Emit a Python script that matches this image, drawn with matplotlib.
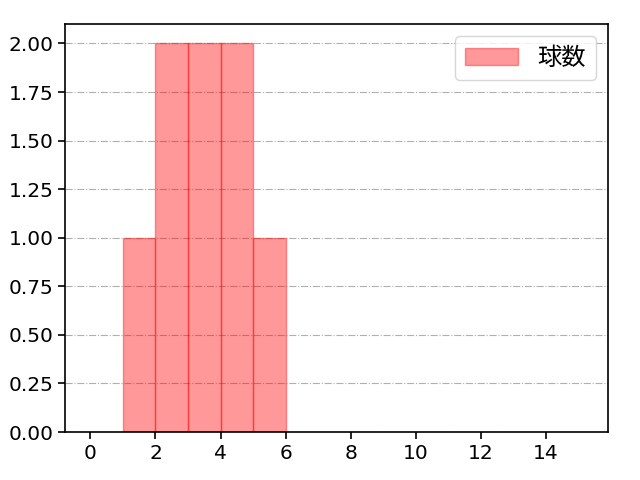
import matplotlib
matplotlib.use("Agg")
import matplotlib.pyplot as plt

plt.rcParams['font.family'] = ['DejaVu Sans', 'Noto Sans CJK JP']

# histogram bins (left edges) and counts
bin_left = [1, 2, 3, 4, 5]
counts = [1, 2, 2, 2, 1]
label = "球数"

fig, ax = plt.subplots(figsize=(6.4, 4.8), dpi=100)
ax.bar(bin_left, counts, width=1, align='edge', color='red', alpha=0.4,
       edgecolor='red', linewidth=1, label=label)
ax.set_xlim(-0.77, 15.9)
ax.set_ylim(0, 2.1)
ax.set_xticks(range(0, 16, 2))
ax.set_yticks([0, 0.25, 0.5, 0.75, 1.0, 1.25, 1.5, 1.75, 2.0])
ax.yaxis.set_major_formatter(matplotlib.ticker.FormatStrFormatter('%.2f'))
ax.grid(axis='y', linestyle='-.', color='#b0b0b0', linewidth=0.8)
ax.set_axisbelow(True)
ax.tick_params(labelsize=14.5, length=5, width=1.2)
for s in ax.spines.values():
    s.set_linewidth(1.2)
ax.legend(loc='upper right', fontsize=17.5, handlelength=2.2)

fig.subplots_adjust(left=0.102, right=0.95, top=0.95, bottom=0.1)
fig.savefig("out.png", dpi=100)
